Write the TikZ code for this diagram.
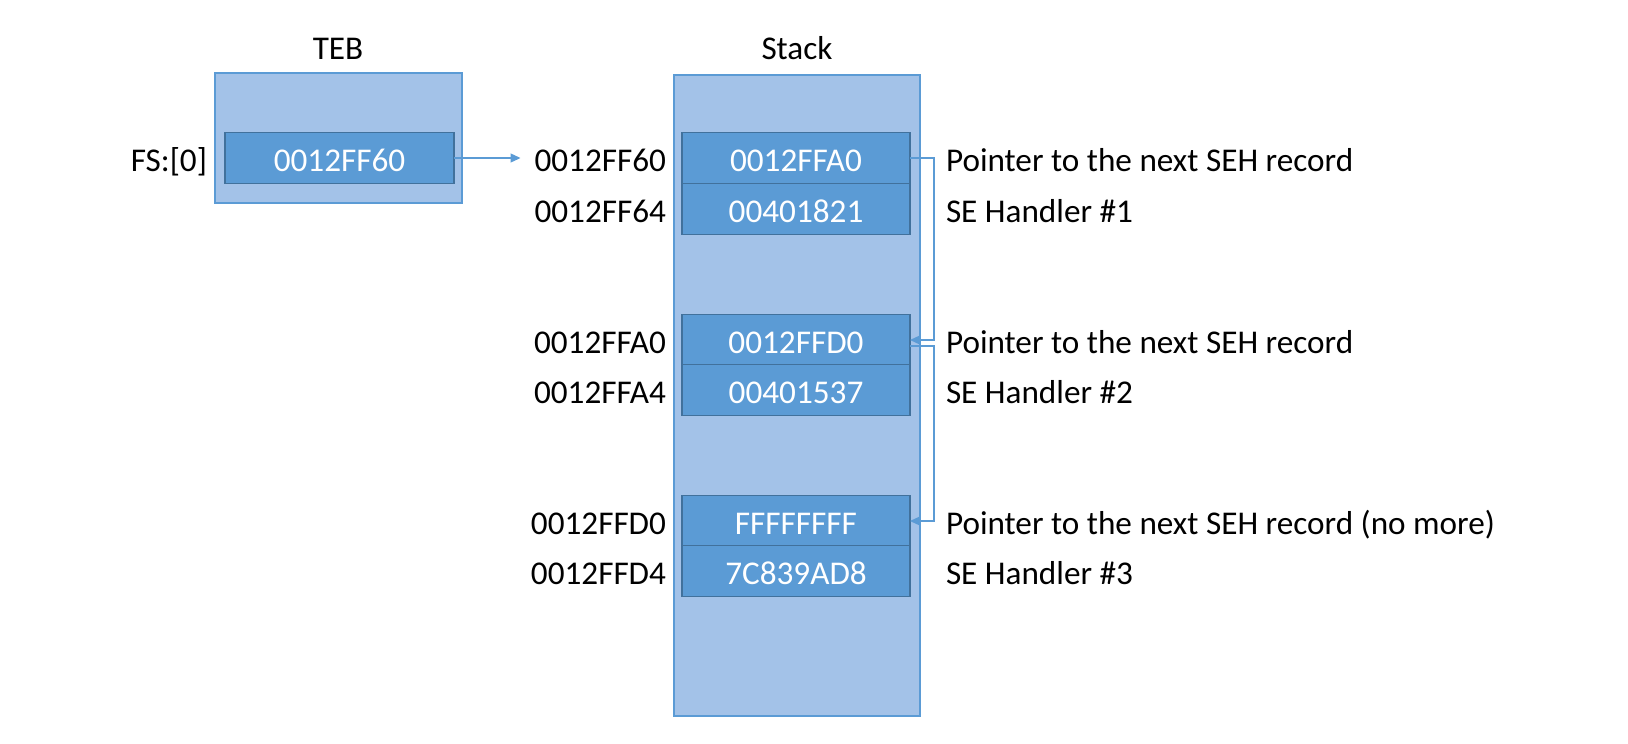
\documentclass[tikz,border=0pt]{standalone}
\usepackage{fontspec}
\setmainfont{Carlito}
\usetikzlibrary{arrows.meta}
\definecolor{cellblue}{HTML}{5B9BD5}
\definecolor{celledge}{HTML}{41719C}
\definecolor{panelblue}{HTML}{A3C2E8}
\definecolor{linkblue}{HTML}{5B9BD5}
\begin{document}
\begin{tikzpicture}[x=0.5pt,y=-0.5pt,
  txt/.style={font=\fontsize{16.6}{20}\selectfont, inner sep=0pt, outer sep=0pt, text height=13.4pt, text depth=0pt},
  lbl/.style={txt, text=black},
  ttl/.style={font=\fontsize{16.6}{20}\selectfont, inner sep=0pt, text height=10.7pt, text depth=0pt, text=black},
  cell/.style={txt, draw=celledge, line width=0.7pt, fill=cellblue, text=white,
     minimum width=114pt, minimum height=25.4pt},
  panel/.style={draw=cellblue, line width=0.7pt, fill=panelblue, inner sep=0pt},
  link/.style={draw=linkblue, line width=0.6pt, -{Triangle[length=5pt,width=4.5pt]}}]
\useasboundingbox (0,0) rectangle (1628,744);
% panels
\node[panel, minimum width=123.5pt, minimum height=65pt] (teb) at (338.5,138) {};
\node[panel, minimum width=123pt, minimum height=320.5pt] (stack) at (797,395.5) {};
% titles
\node[ttl] (tebt) at (338,49) {TEB};
\node[ttl] (stackt) at (797,49) {Stack};
% TEB cell
\node[cell, minimum width=114.5pt] (fs) at (339.5,158) {0012FF60};
\node[lbl, anchor=east] (fsl) at (207,158) {FS:[0]};
% stack cells
\node[cell] (r1a) at (796,158) {0012FFA0};
\node[cell] (r1b) at (796,209) {00401821};
\node[cell] (r2a) at (796,340) {0012FFD0};
\node[cell] (r2b) at (796,390) {00401537};
\node[cell] (r3a) at (796,521) {FFFFFFFF};
\node[cell] (r3b) at (796,571) {7C839AD8};
% addresses
\node[lbl, anchor=east] (a1a) at (666,158) {0012FF60};
\node[lbl, anchor=east] (a1b) at (666,209) {0012FF64};
\node[lbl, anchor=east] (a2a) at (666,340) {0012FFA0};
\node[lbl, anchor=east] (a2b) at (666,390) {0012FFA4};
\node[lbl, anchor=east] (a3a) at (666,521) {0012FFD0};
\node[lbl, anchor=east] (a3b) at (666,571) {0012FFD4};
% descriptions
\node[lbl, anchor=west] (d1a) at (946,158) {Pointer to the next SEH record};
\node[lbl, anchor=west] (d1b) at (946,209) {SE Handler \#1};
\node[lbl, anchor=west] (d2a) at (946,340) {Pointer to the next SEH record};
\node[lbl, anchor=west] (d2b) at (946,390) {SE Handler \#2};
\node[lbl, anchor=west] (d3a) at (946,521) {Pointer to the next SEH record (no more)};
\node[lbl, anchor=west] (d3b) at (946,571) {SE Handler \#3};
% connectors
\draw[link, shorten >=7pt] (fs.east) -- (a1a.west);
\draw[link] (r1a.east) -- ++(24,0) |- (r2a.east);
\draw[link] ([yshift=-3pt]r2a.east) -- ++(24,0) |- (r3a.east);
\end{tikzpicture}
\end{document}
